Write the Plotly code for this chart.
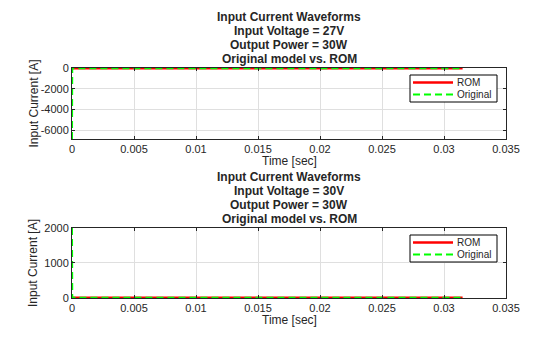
import plotly.graph_objects as go

# Sample times [sec]
time_27v = [0.0, 0.00002, 0.0005, 0.001, 0.005, 0.01, 0.015, 0.02, 0.025, 0.03, 0.0315]
time_30v = [0.0, 0.00002, 0.0005, 0.001, 0.005, 0.01, 0.015, 0.02, 0.025, 0.03, 0.0315]

# Input current [A], 27 V input
rom_27v = [1.1, 1.1, 1.1, 1.1, 1.1, 1.1, 1.1, 1.1, 1.1, 1.1, 1.1]
orig_27v = [-6870, 1.1, 1.1, 1.1, 1.1, 1.1, 1.1, 1.1, 1.1, 1.1, 1.1]

# Input current [A], 30 V input
rom_30v = [1.0, 1.0, 1.0, 1.0, 1.0, 1.0, 1.0, 1.0, 1.0, 1.0, 1.0]
orig_30v = [2000, 1.0, 1.0, 1.0, 1.0, 1.0, 1.0, 1.0, 1.0, 1.0, 1.0]

title_lines = [
    ["Input Current Waveforms", "Input Voltage = 27V", "Output Power = 30W", "Original model vs. ROM"],
    ["Input Current Waveforms", "Input Voltage = 30V", "Output Power = 30W", "Original model vs. ROM"],
]
series_names = ["ROM", "Original"]
x_ticks = [0, 0.005, 0.01, 0.015, 0.02, 0.025, 0.03, 0.035]
x_tick_text = ["0", "0.005", "0.01", "0.015", "0.02", "0.025", "0.03", "0.035"]

W, H = 560, 337
FONT = "Liberation Sans, Arial, sans-serif"
AX = "#262626"
RED = "#ff0000"
GREEN = "#00ff00"
ROM_LINE = dict(color=RED, width=2.6)
ORIG_LINE = dict(color=GREEN, width=2, dash="7px,4px")


def px_x(p):
    return p / W


def px_y(p):
    return 1 - p / H


fig = go.Figure()

panels = [
    dict(t=time_27v, rom=rom_27v, orig=orig_27v, yr=[-6870, 15],
         yt=[0, -2000, -4000, -6000], top=68, bot=139),
    dict(t=time_30v, rom=rom_30v, orig=orig_30v, yr=[-5, 2000],
         yt=[0, 1000, 2000], top=228, bot=298),
]

axis_common = dict(
    showline=True, linecolor=AX, linewidth=1, mirror="ticks",
    ticks="inside", ticklen=3, tickcolor=AX, tickwidth=1,
    showgrid=True, gridcolor="#dfdfdf", gridwidth=1, zeroline=False,
    tickfont=dict(family=FONT, size=11, color=AX), automargin=False,
)

layout = dict(
    width=W, height=H,
    margin=dict(l=0, r=0, t=0, b=0),
    paper_bgcolor="white", plot_bgcolor="white",
    font=dict(family=FONT, color=AX),
    showlegend=False,
)

shapes = []
annotations = []

for i, p in enumerate(panels):
    sx = "" if i == 0 else "2"
    xa, ya = "x" + sx, "y" + sx
    fig.add_trace(go.Scatter(x=p["t"], y=p["rom"], mode="lines", name=series_names[0],
                             line=ROM_LINE, xaxis=xa, yaxis=ya))
    fig.add_trace(go.Scatter(x=p["t"], y=p["orig"], mode="lines", name=series_names[1],
                             line=ORIG_LINE, xaxis=xa, yaxis=ya))

    layout["xaxis" + sx] = dict(
        axis_common, domain=[px_x(72), px_x(506)], range=[0, 0.035],
        tickvals=x_ticks, ticktext=x_tick_text, anchor=ya,
    )
    layout["yaxis" + sx] = dict(
        axis_common, domain=[px_y(p["bot"]), px_y(p["top"])], range=p["yr"],
        tickvals=p["yt"], ticktext=[str(v) for v in p["yt"]], anchor=xa,
    )

    # Title, one bold line at a time
    for k, line in enumerate(title_lines[i]):
        annotations.append(dict(
            text="<b>" + line + "</b>", xref="paper", yref="paper",
            x=px_x(289), y=px_y(p["top"] - 51 + 14 * k), xanchor="center", yanchor="middle",
            showarrow=False, font=dict(family=FONT, size=12, color=AX),
        ))

    # Axis labels
    annotations.append(dict(
        text="Time [sec]", xref="paper", yref="paper",
        x=px_x(289), y=px_y(p["bot"] + 22), xanchor="center", yanchor="middle",
        showarrow=False, font=dict(family=FONT, size=12, color=AX),
    ))
    annotations.append(dict(
        text="Input Current [A]", xref="paper", yref="paper", textangle=-90,
        x=px_x(33), y=px_y((p["top"] + p["bot"]) / 2), xanchor="center", yanchor="middle",
        showarrow=False, font=dict(family=FONT, size=12, color=AX),
    ))

    # Boxed legend
    lt = p["top"] + 7
    shapes.append(dict(type="rect", xref="paper", yref="paper",
                       x0=px_x(410), x1=px_x(497), y0=px_y(lt), y1=px_y(lt + 27),
                       line=dict(color="#000000", width=1), fillcolor="white", layer="above"))
    for k, (nm, ln) in enumerate(zip(series_names, [ROM_LINE, ORIG_LINE])):
        yy = px_y(lt + 7.5 + 12 * k)
        shapes.append(dict(type="line", xref="paper", yref="paper",
                           x0=px_x(413), x1=px_x(453), y0=yy, y1=yy,
                           line=ln, layer="above"))
        annotations.append(dict(
            text=nm, xref="paper", yref="paper", x=px_x(455), y=yy,
            xanchor="left", yanchor="middle", showarrow=False,
            font=dict(family=FONT, size=10, color=AX),
        ))

layout["shapes"] = shapes
layout["annotations"] = annotations
fig.update_layout(**layout)

fig.write_html("out.html")
